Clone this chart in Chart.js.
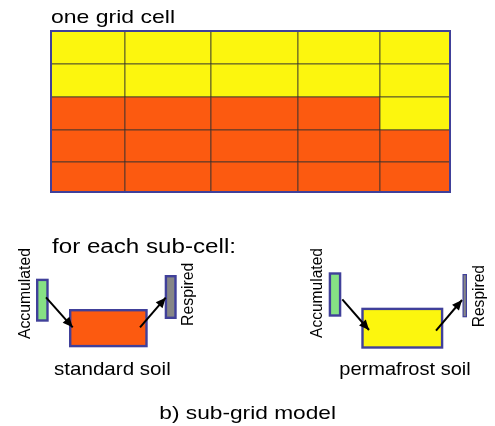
<!DOCTYPE html>
<html>
<head>
<meta charset="utf-8">
<title>sub-grid model</title>
<script src="https://cdn.jsdelivr.net/npm/chart.js@4.4.1/dist/chart.umd.min.js"></script>
<style>
  html, body { margin: 0; padding: 0; background: #ffffff; }
  canvas { display: block; }
</style>
</head>
<body>
<canvas id="diagram" width="495" height="426"></canvas>
<script>
// Grid of one cell, split into sub-cells (edges in picture units)
const colEdges = [51, 125, 211, 298, 380, 450];
const rowEdges = [31, 64, 97, 130, 162, 192];
// P = permafrost soil, S = standard soil
const cellKinds = [
  ['P', 'P', 'P', 'P', 'P'],
  ['P', 'P', 'P', 'P', 'P'],
  ['S', 'S', 'S', 'S', 'P'],
  ['S', 'S', 'S', 'S', 'S'],
  ['S', 'S', 'S', 'S', 'S']
];

// Carbon pools for each sub-cell: [x0, x1, y0, y1, kind]
const poolNames = ['Accumulated', 'standard soil', 'Respired', 'Accumulated', 'permafrost soil', 'Respired'];
const poolBoxes = [
  [36, 48.7, 278.7, 321.7, 'A'],
  [69, 147.7, 309, 347.3, 'S'],
  [164.7, 176.7, 275, 319, 'R'],
  [328.7, 341.3, 272.3, 316.7, 'A'],
  [361.3, 443.3, 307.7, 348.7, 'P'],
  [462.5, 467, 274, 317.3, 'R']
];

// Fluxes between pools: [fromX, fromY, toX, toY]
const fluxes = [
  [46, 297.3, 72.7, 327.3],
  [140, 327.3, 165.7, 297.7],
  [342.3, 299.3, 369, 330],
  [436, 330.7, 462, 300]
];

const kindColors = { P: '#fcf60e', S: '#fc5a10', A: '#86e184', R: '#868686' };
const edgeColor = '#40409a';
const fontName = '"Liberation Sans", Arial, sans-serif';

// texte: [text, x, y, size, width, rotated]
const texte = [
  ['one grid cell', 51, 23.3, 19, 124, false],
  ['for each sub-cell:', 52, 253.3, 20, 184, false],
  ['standard soil', 54, 375, 19, 116.7, false],
  ['permafrost soil', 339.3, 375, 19, 131.4, false],
  ['b) sub-grid model', 159.3, 419.3, 19, 176.7, false],
  ['Accumulated', 30, 339, 16.5, 91, true],
  ['Accumulated', 321.7, 338, 16.5, 90, true],
  ['Respired', 193, 326, 16.5, 63.3, true],
  ['Respired', 483.5, 327.3, 16.5, 62.3, true]
];

const diagramPlugin = {
  id: 'diagramPlugin',
  beforeDatasetsDraw(chart) {
    const ctx = chart.ctx;
    const px = v => chart.scales.x.getPixelForValue(v);
    const py = v => chart.scales.y.getPixelForValue(v);
    ctx.save();

    // sub-cells
    cellKinds.forEach((row, r) => {
      row.forEach((kind, c) => {
        const x0 = px(colEdges[c]), x1 = px(colEdges[c + 1]);
        const y0 = py(rowEdges[r]), y1 = py(rowEdges[r + 1]);
        ctx.fillStyle = kindColors[kind];
        ctx.fillRect(x0, y0, x1 - x0, y1 - y0);
        ctx.strokeStyle = 'rgba(50,50,50,0.75)';
        ctx.lineWidth = 1;
        ctx.strokeRect(x0, y0, x1 - x0, y1 - y0);
      });
    });
    // outer border of the grid cell
    const gx0 = px(colEdges[0]), gx1 = px(colEdges[colEdges.length - 1]);
    const gy0 = py(rowEdges[0]), gy1 = py(rowEdges[rowEdges.length - 1]);
    ctx.strokeStyle = edgeColor;
    ctx.lineWidth = 2;
    ctx.strokeRect(gx0, gy0, gx1 - gx0, gy1 - gy0);

    // pools (thin boxes get a thinner edge)
    poolBoxes.forEach(b => {
      const w = px(b[1]) - px(b[0]);
      const lw = w < 8 ? 1.2 : 2.4;
      const x0 = px(b[0]) + lw / 2, x1 = px(b[1]) - lw / 2;
      const y0 = py(b[2]) + lw / 2, y1 = py(b[3]) - lw / 2;
      ctx.fillStyle = kindColors[b[4]];
      ctx.fillRect(x0, y0, x1 - x0, y1 - y0);
      ctx.strokeStyle = edgeColor;
      ctx.lineWidth = lw;
      ctx.strokeRect(x0, y0, x1 - x0, y1 - y0);
    });
    ctx.restore();
  },
  afterDatasetsDraw(chart) {
    const ctx = chart.ctx;
    const px = v => chart.scales.x.getPixelForValue(v);
    const py = v => chart.scales.y.getPixelForValue(v);
    ctx.save();

    // arrow heads
    ctx.fillStyle = '#000000';
    fluxes.forEach(f => {
      const tx = px(f[2]), ty = py(f[3]);
      const ang = Math.atan2(ty - py(f[1]), tx - px(f[0]));
      const len = 10, half = 4.5;
      ctx.beginPath();
      ctx.moveTo(tx, ty);
      ctx.lineTo(tx - len * Math.cos(ang) + half * Math.sin(ang), ty - len * Math.sin(ang) - half * Math.cos(ang));
      ctx.lineTo(tx - len * Math.cos(ang) - half * Math.sin(ang), ty - len * Math.sin(ang) + half * Math.cos(ang));
      ctx.closePath();
      ctx.fill();
    });

    // labels
    texte.forEach(t => {
      ctx.save();
      ctx.translate(px(t[1]), py(t[2]));
      if (t[5]) ctx.rotate(-Math.PI / 2);
      ctx.font = t[3] + 'px ' + fontName;
      ctx.textBaseline = 'alphabetic';
      ctx.textAlign = 'left';
      const w = ctx.measureText(t[0]).width;
      ctx.scale(t[4] / w, 1);
      ctx.fillStyle = '#000000';
      ctx.fillText(t[0], 0, 0);
      ctx.restore();
    });
    ctx.restore();
  }
};

new Chart(document.getElementById('diagram'), {
  type: 'scatter',
  data: {
    datasets: fluxes.map(f => ({
      data: [{ x: f[0], y: f[1] }, { x: f[2], y: f[3] }],
      showLine: true,
      borderColor: '#000000',
      borderWidth: 2,
      pointRadius: 0,
      fill: false
    }))
  },
  options: {
    responsive: false,
    animation: false,
    layout: { padding: 0 },
    plugins: { legend: { display: false }, tooltip: { enabled: false } },
    scales: {
      x: { type: 'linear', min: 0, max: 495, display: false },
      y: { type: 'linear', min: 0, max: 426, reverse: true, display: false }
    }
  },
  plugins: [diagramPlugin]
});
</script>
</body>
</html>
